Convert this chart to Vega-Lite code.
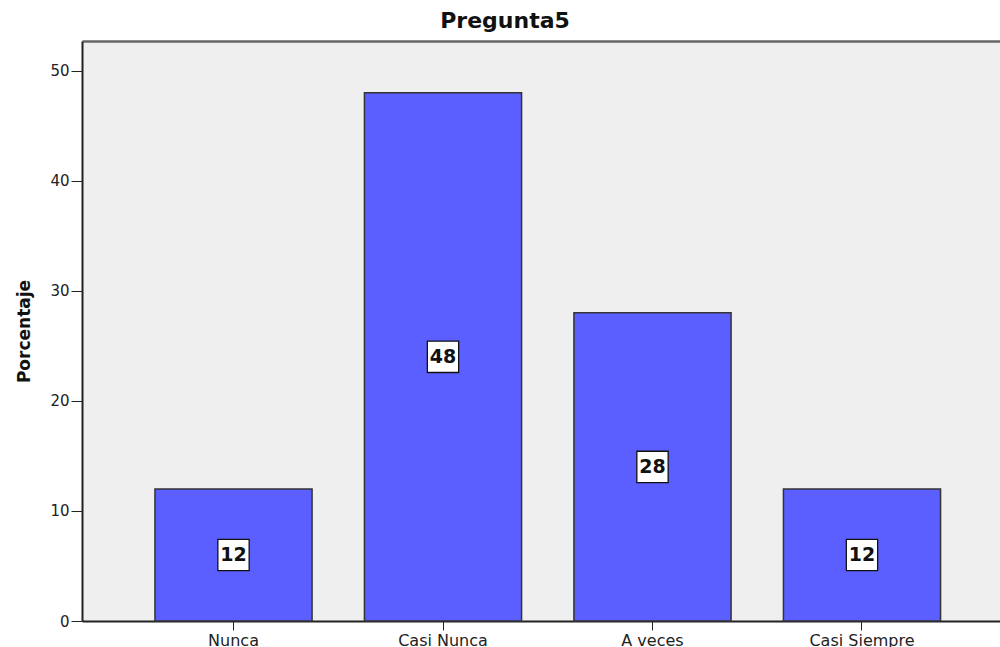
{
  "$schema": "https://vega.github.io/schema/vega-lite/v6.json",
  "autosize": {"type": "none"},
  "padding": {"left": 82, "top": 41, "right": 0, "bottom": 26},
  "width": 918,
  "height": 580,
  "background": "white",
  "config": {
    "font": "DejaVu Sans",
    "view": {"fill": "#efefef", "stroke": null}
  },
  "title": {
    "text": "Pregunta5",
    "anchor": "middle",
    "dx": -36,
    "offset": 8,
    "fontSize": 22,
    "fontWeight": "bold",
    "color": "#111111",
    "font": "DejaVu Sans"
  },
  "data": {
    "values": [
      {"categoria": "Nunca", "porcentaje": 12},
      {"categoria": "Casi Nunca", "porcentaje": 48},
      {"categoria": "A veces", "porcentaje": 28},
      {"categoria": "Casi Siempre", "porcentaje": 12}
    ]
  },
  "resolve": {"axis": {"x": "independent"}},
  "layer": [
    {
      "mark": {"type": "bar", "fill": "#5b5fff", "stroke": "#333333", "strokeWidth": 1.5},
      "encoding": {
        "x": {
          "field": "categoria",
          "type": "nominal",
          "sort": null,
          "scale": {"paddingInner": 0.25, "paddingOuter": 0.316, "align": 0.551},
          "axis": {
            "title": null,
            "labelAngle": 0,
            "labelFontSize": 16,
            "labelColor": "#222222",
            "labelPadding": 2,
            "tickSize": 9,
            "tickColor": "#222222",
            "domainColor": "#222222",
            "domainWidth": 2
          }
        },
        "y": {
          "field": "porcentaje",
          "type": "quantitative",
          "scale": {"domain": [0, 52.7], "nice": false},
          "axis": {
            "title": "Porcentaje",
            "titleFontSize": 17,
            "titleFontWeight": "bold",
            "titleColor": "#111111",
            "titlePadding": 16,
            "values": [0, 10, 20, 30, 40, 50],
            "grid": false,
            "labelFontSize": 15,
            "labelColor": "#222222",
            "labelPadding": 2,
            "tickSize": 11,
            "tickColor": "#222222",
            "domainColor": "#222222",
            "domainWidth": 2
          }
        }
      }
    },
    {
      "transform": [{"calculate": "datum.porcentaje / 2", "as": "medio"}],
      "mark": {"type": "point", "shape": "square", "size": 980, "filled": true, "fill": "white", "stroke": "#111111", "strokeWidth": 1.3, "opacity": 1},
      "encoding": {
        "x": {
          "field": "categoria",
          "type": "nominal",
          "sort": null,
          "axis": {
            "orient": "top",
            "title": null,
            "labels": false,
            "ticks": false,
            "domainColor": "#666666",
            "domainWidth": 2.5
          }
        },
        "y": {"field": "medio", "type": "quantitative", "scale": {"domain": [0, 52.7], "nice": false}}
      }
    },
    {
      "transform": [{"calculate": "datum.porcentaje / 2", "as": "medio"}],
      "mark": {"type": "text", "fontSize": 19, "fontWeight": "bold", "color": "#111111", "baseline": "middle", "align": "center"},
      "encoding": {
        "x": {"field": "categoria", "type": "nominal", "sort": null, "axis": null},
        "y": {"field": "medio", "type": "quantitative", "scale": {"domain": [0, 52.7], "nice": false}},
        "text": {"field": "porcentaje", "type": "quantitative"}
      }
    }
  ]
}
